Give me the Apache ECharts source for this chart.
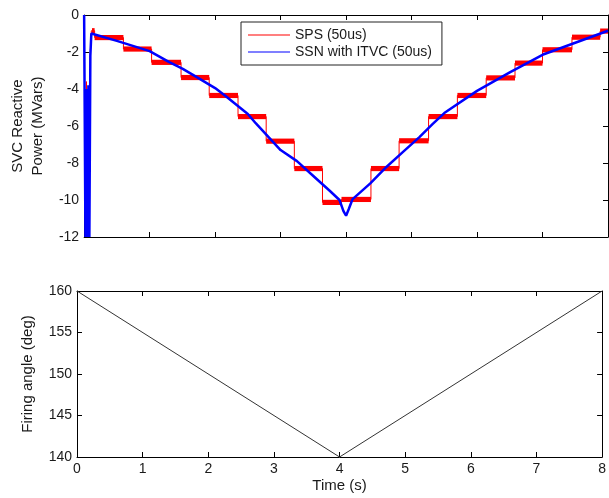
<!DOCTYPE html>
<html>
<head>
<meta charset="utf-8">
<script src="https://cdn.jsdelivr.net/npm/echarts@6/dist/echarts.min.js"></script>
<style>html,body{margin:0;padding:0;background:#fff}#c{width:609px;height:498px}</style>
</head>
<body>
<div id="c"></div>
<script>
// ---- data ----
// SPS (50us): start-up transient, then staircase levels
var spsTransT = [0, 0.02, 0.035, 0.05, 0.065, 0.08, 0.09, 0.11, 0.12];
var spsTransV = [0, -12, -3.6, -12, -4.5, -7.2, -2.3, -0.85, -0.85];
var stepStart = [0.12, 0.16, 0.60, 1.03, 1.48, 1.91, 2.35, 2.78, 3.21, 3.64, 3.93, 4.38, 4.81, 5.26, 5.70, 6.14, 6.58, 7.00, 7.45, 7.88];
var stepEnd   = [0.16, 0.60, 1.03, 1.48, 1.91, 2.35, 2.78, 3.21, 3.64, 3.93, 4.38, 4.81, 5.26, 5.70, 6.14, 6.58, 7.00, 7.45, 7.88, 8.00];
var stepLevel = [-0.85, -1.22, -1.84, -2.56, -3.38, -4.35, -5.49, -6.82, -8.30, -10.13, -9.97, -8.30, -6.80, -5.49, -4.35, -3.40, -2.60, -1.88, -1.20, -0.87];
// SSN with ITVC (50us)
var ssnT = [0, 0.02, 0.035, 0.05, 0.065, 0.08, 0.095, 0.11, 0.13, 0.5, 1.0, 1.3, 1.5, 1.72, 2.0, 2.15, 2.5, 2.62, 3.0, 3.25, 3.5, 3.75, 3.9, 3.96, 4.0, 4.04, 4.1, 4.37, 4.62, 4.87, 5.12, 5.32, 5.5, 6.0, 6.5, 7.0, 7.5, 8.0];
var ssnV = [0, -12, -4, -12, -3.8, -12, -2.2, -1.0, -1.0, -1.4, -1.95, -2.55, -2.9, -3.36, -3.95, -4.35, -5.35, -5.85, -7.3, -7.9, -8.7, -9.5, -10.0, -10.6, -10.85, -10.5, -9.95, -9.1, -8.2, -7.4, -6.6, -5.9, -5.3, -4.1, -3.1, -2.15, -1.5, -0.85];
// Firing angle
var angT = [0, 4, 8];
var angV = [160, 140, 160];

// ---- build ----
var spsLine = [];
for (var i = 0; i < spsTransT.length; i++) spsLine.push([spsTransT[i], spsTransV[i]]);
for (var j = 0; j < stepStart.length; j++) {
  spsLine.push([stepStart[j], stepLevel[j]]);
  spsLine.push([stepEnd[j], stepLevel[j]]);
}
var bandData = stepStart.map(function (s, k) { return [s, stepEnd[k], stepLevel[k]]; });
var ssnLine = ssnT.map(function (t, k) { return [t, ssnV[k]]; });
var angLine = angT.map(function (t, k) { return [t, angV[k]]; });

var FONT = 'Liberation Sans';
var lab = { fontFamily: FONT, fontSize: 14, color: '#1a1a1a' };
function xAx(grid, pos, showLabel, name) {
  return {
    type: 'value', gridIndex: grid, position: pos, min: 0, max: 8, interval: 1,
    axisLine: { show: true, onZero: false, lineStyle: { color: '#000', width: 1 } },
    axisTick: { show: true, inside: true, length: 5, lineStyle: { color: '#000' } },
    axisLabel: Object.assign({ show: showLabel, margin: 5 }, lab),
    splitLine: { show: false },
    name: name || '', nameLocation: 'middle', nameGap: 21,
    nameTextStyle: { fontFamily: FONT, fontSize: 15, color: '#1a1a1a' }
  };
}
function yAx(grid, pos, min, max, itv, showLabel, name, gap) {
  return {
    type: 'value', gridIndex: grid, position: pos, min: min, max: max, interval: itv,
    axisLine: { show: true, onZero: false, lineStyle: { color: '#000', width: 1 } },
    axisTick: { show: true, inside: true, length: 5, lineStyle: { color: '#000' } },
    axisLabel: Object.assign({ show: showLabel, margin: 5 }, lab),
    splitLine: { show: false },
    name: name || '', nameLocation: 'middle', nameGap: gap || 30, nameRotate: 90,
    nameTextStyle: { fontFamily: FONT, fontSize: 15, color: '#1a1a1a', lineHeight: 20 }
  };
}

var chart = echarts.init(document.getElementById('c'), null, { renderer: 'canvas' });
chart.setOption({
  animation: false,
  backgroundColor: '#fff',
  grid: [
    { left: 77, top: 15, width: 531, height: 222 },
    { left: 77, top: 291, width: 531, height: 166 }
  ],
  xAxis: [
    xAx(0, 'bottom', false), xAx(0, 'top', false),
    xAx(1, 'bottom', true, 'Time (s)'), xAx(1, 'top', false)
  ],
  yAxis: [
    yAx(0, 'left', -12, 0, 2, true, 'SVC Reactive\nPower (MVars)', 30),
    yAx(0, 'right', -12, 0, 2, false),
    yAx(1, 'left', 140, 160, 5, true, 'Firing angle (deg)', 34),
    yAx(1, 'right', 140, 160, 5, false)
  ],
  legend: {
    data: [
      { name: 'SPS (50us)', icon: 'rect' },
      { name: 'SSN with ITVC (50us)', icon: 'rect' }
    ],
    orient: 'vertical', left: 241, top: 22,
    width: 200,
    padding: [6, 10, 6, 7],
    itemWidth: 42, itemHeight: 1.2, itemGap: 3,
    borderColor: '#222', borderWidth: 1, backgroundColor: '#fff',
    textStyle: { fontFamily: FONT, fontSize: 14, color: '#1a1a1a', padding: [0, 0, 0, 0] },
    selectedMode: false
  },
  series: [
    {
      type: 'custom', name: 'band', xAxisIndex: 0, yAxisIndex: 0, data: bandData,
      encode: { x: [0, 1], y: 2 }, silent: true, z: 2,
      renderItem: function (params, api) {
        var p0 = api.coord([api.value(0), api.value(2) + 0.14]);
        var p1 = api.coord([api.value(1), api.value(2) - 0.14]);
        return { type: 'rect', shape: { x: p0[0], y: p0[1], width: p1[0] - p0[0], height: p1[1] - p0[1] },
                 style: { fill: '#ff0000' } };
      }
    },
    {
      type: 'line', name: 'SPS (50us)', xAxisIndex: 0, yAxisIndex: 0, data: spsLine,
      showSymbol: false, lineStyle: { color: '#ff0000', width: 1 }, itemStyle: { color: '#ff0000' }, z: 3
    },
    {
      type: 'line', name: 'SSN with ITVC (50us)', xAxisIndex: 0, yAxisIndex: 0, data: ssnLine,
      showSymbol: false, lineStyle: { color: '#0000ff', width: 2.5 }, itemStyle: { color: '#0000ff' }, z: 4
    },
    {
      type: 'line', name: 'angle', xAxisIndex: 2, yAxisIndex: 2, data: angLine,
      showSymbol: false, lineStyle: { color: '#333', width: 1 }, itemStyle: { color: '#333' }, z: 3
    }
  ]
});
</script>
</body>
</html>
